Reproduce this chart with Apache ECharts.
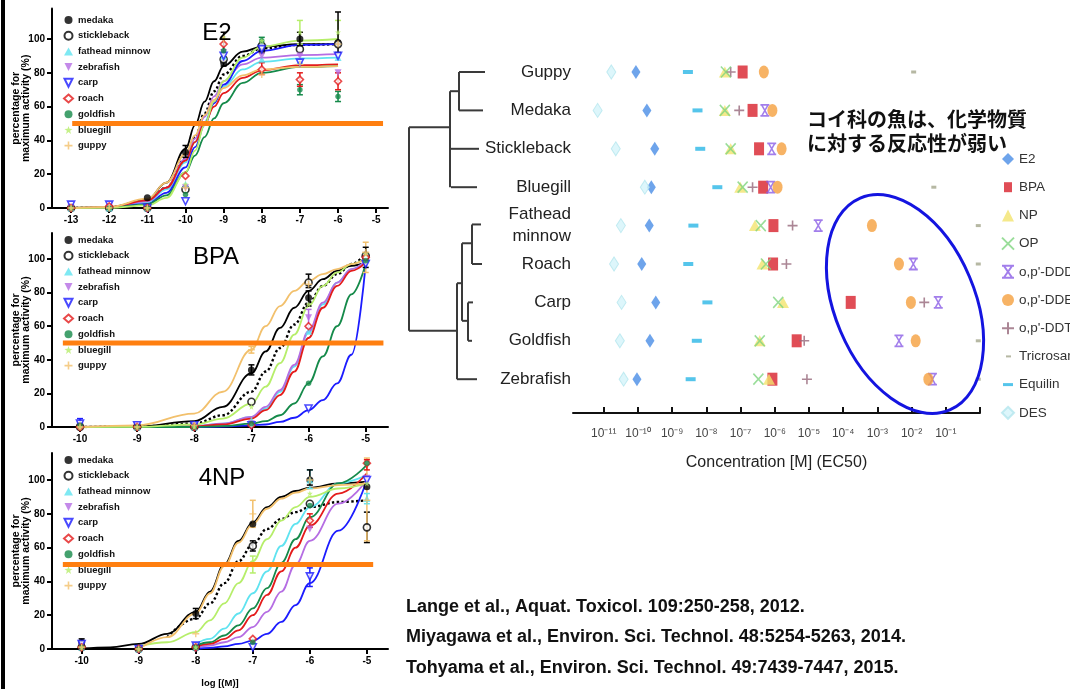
<!DOCTYPE html>
<html>
<head>
<meta charset="utf-8">
<script src="https://cdn.jsdelivr.net/npm/echarts@6.0.0/dist/echarts.min.js"></script>
<style>html,body{margin:0;padding:0;background:#fff}#main{width:1070px;height:689px}</style>
</head>
<body>
<div id="main"></div>
<script>
// ---- left panels: dose-response per fish ----
var fishNames = ['medaka', 'stickleback', 'fathead minnow', 'zebrafish', 'carp', 'roach', 'goldfish', 'bluegill', 'guppy'];

// E2
var e2Ticks = [-13, -12, -11, -10, -9, -8, -7, -6, -5];
var e2CurveX = [-13, -12, -11, -10.5, -10, -9.75, -9.5, -9.25, -9, -8.5, -8, -7, -6];
var e2Curves = [
    [0, 0.5, 5, 15, 35, 49, 63, 75, 84, 92.5, 95.5, 97, 97],
    [0, 0.4, 4, 12, 29, 42, 56, 69, 79, 90, 94.5, 96.5, 97],
    [0, 0.3, 3.5, 11, 27, 39, 51, 63, 72, 82, 86.5, 88.5, 89],
    [0, 0.4, 4, 12, 29, 41, 54, 66, 75, 85, 89, 90.5, 91],
    [0, 0.2, 2.5, 9, 24, 36, 49, 62, 73, 87, 93, 96.5, 97],
    [0, 0.4, 4.5, 12, 28, 39, 50, 60, 68, 77, 81.5, 84.5, 85],
    [0, 0.2, 2.2, 7.5, 21, 31, 42, 53, 62, 74, 80, 83.5, 84],
    [0, 0.1, 1.5, 6, 21, 34, 49, 63, 75, 89, 95.5, 99, 100],
    [0, 0.6, 5.5, 15, 32, 43, 55, 64, 71, 78.5, 82, 83.5, 84]
];
var e2DoseX = [-13, -12, -11, -10, -9, -8, -7, -6];
var e2Points = [
    [0, 0, 6, 33, 86, 93, 100, 98],
    [0, 0, 0, 11, 88, 96, 94, 97],
    [0, 0, 0, 14, 90, 88, 87, 89],
    [0, 0, 0, 12, 92, 90, 90, 80],
    [2, 2, 0, 4, 90, 94, 86, 90],
    [0, 1, 0, 19, 97, 82, 76, 75],
    [0, 0, 0, 8, 93, 99, 70, 66],
    [0, 0, 0, 14, 101, 99, 104, 104],
    [0, 0, 0, 12, 100, 79, 85, 97]
];
// [x, low, high, fish index]
var e2Errors = [
    [-7, 67, 73, 6], [-6, 63, 69, 6], [-7, 97, 111, 7], [-6, 97, 111, 7],
    [-6, 92, 116, 0], [-7, 96, 104, 0], [-8, 79, 86, 5], [-6, 70, 80, 5],
    [-7, 72, 80, 5], [-8, 97, 101, 6], [-9, 84, 104, 1], [-10, 30, 37, 0]
];

// BPA
var bpaTicks = [-10, -9, -8, -7, -6, -5];
var bpaCurveX = [-10, -9, -8, -7.5, -7, -6.75, -6.5, -6.25, -6, -5.75, -5.5, -5.25, -5];
var bpaCurves = [
    [0, 0.3, 3.5, 12, 32, 45, 59, 71, 81, 88, 93, 96, 98],
    [0, 0.2, 2, 7, 21, 33, 47, 61, 74, 84, 91, 97, 103],
    [0, 0, 0.5, 2, 6, 11, 21, 36, 56, 73, 86, 94, 99],
    [0, 0, 0.5, 2, 6, 12, 22, 37, 57, 74, 86, 94, 99],
    [0, 0, 0, 0.3, 1, 1.5, 3, 5.5, 10, 16, 26, 43, 97],
    [0, 0, 0.4, 1.5, 5, 10, 19, 33, 53, 71, 84, 93, 98],
    [0, 0, 0, 0.5, 2, 3.5, 7, 14, 26, 42, 60, 79, 97],
    [0, 0.1, 1.5, 5, 14, 24, 38, 55, 72, 84, 92, 97, 101],
    [0, 1, 8, 21, 46, 60, 72, 81, 87, 91, 94, 97, 100]
];
var bpaDoseX = [-10, -9, -8, -7, -6, -5];
var bpaPoints = [
    [1, 0, 0, 34, 77, 100],
    [0, 0, 0, 15, 86, 102],
    [1, 0, 0, 4, 57, 100],
    [1, 1, 0, 2, 65, 98],
    [2, 1, 1, 1, 11, 97],
    [0, 0, 0, 1, 60, 101],
    [1, 0, 0, 2, 26, 99],
    [0, 0, 0, 12, 73, 103],
    [0, 0, 1, 46, 85, 104]
];
var bpaErrors = [
    [-10, 0, 5, 4], [-7, 44, 48, 8], [-7, 31, 37, 0], [-6, 72, 81, 0],
    [-6, 83, 91, 1], [-6, 59, 70, 3], [-5, 92, 110, 8], [-5, 95, 107, 0]
];

// 4NP
var npCurveX = [-10, -9.5, -9, -8.5, -8, -7.75, -7.5, -7.25, -7, -6.75, -6.5, -6.25, -6, -5.5, -5];
var npCurves = [
    [0.3, 1, 3, 9, 22, 34, 50, 64, 75, 84, 90, 93.5, 95.5, 98, 99],
    [null, null, null, 7, 18, 27, 39, 52, 62, 71, 77, 81, 84, 87, 88],
    [null, null, null, null, 3, 6, 12, 21, 33, 46, 61, 74, 84, 98, 103],
    [null, null, null, null, 1, 2, 4, 7, 13, 22, 34, 50, 64, 86, 100],
    [null, null, null, null, 0, 0.7, 1.5, 3, 5, 9, 16, 26, 39, 70, 100],
    [null, null, null, null, 1.5, 3, 6, 11, 20, 32, 46, 60, 73, 92, 104],
    [null, null, null, null, 2, 4, 8, 14, 24, 36, 51, 65, 78, 98, 109],
    [null, null, 1.5, 4, 10, 17, 27, 39, 52, 65, 76, 84, 90, 95, 98],
    [null, null, 0, 7, 21, 33, 49, 63, 74, 83, 89, 92.5, 95, 97, 98]
];
var npDoseX = [-10, -9, -8, -7, -6, -5];
var npPoints = [
    [4, 0, 21, 74, 100, 96],
    [1, 0, 1, 61, 86, 72],
    [1, 0, 1, 5, 100, 89],
    [2, 0, 0, 3, 71, 101],
    [3, 0, 2, 1, 43, 100],
    [1, 0, 1, 6, 76, 110],
    [1, 0, 1, 4, 85, 110],
    [1, 0, 1, 50, 92, 98],
    [1, 0, 9, 80, 100, 88]
];
var npErrors = [
    [-10, 2, 6, 0], [-8, 18, 24, 0], [-7, 58, 64, 1], [-7, 45, 55, 7],
    [-7, 72, 88, 8], [-6, 37, 48, 4], [-6, 95, 106, 2], [-6, 97, 106, 0],
    [-5, 63, 81, 1], [-5, 64, 113, 8], [-5, 86, 92, 2], [-5, 106, 112, 5], [-6, 72, 80, 5]
];

var halfMax = 50;
var e2Span = [-12.97, -4.82];
var bpaSpan = [-10.3, -4.69];
var npSpan = [-10.33, -4.89];

// ---- right panel: EC50 per species ----
var speciesRows = ['Guppy', 'Medaka', 'Stickleback', 'Bluegill', 'Fathead\nminnow', 'Roach', 'Carp', 'Goldfish', 'Zebrafish'];
var chemNames = ['E2', 'BPA', 'NP', 'OP', "o,p'-DDD", "o,p'-DDE", "o,p'-DDT", 'Tricrosan', 'Equilin', 'DES'];
var logE2 = [-10.06, -9.74, -9.51, -9.61, -9.67, -9.89, -9.48, -9.65, -10.03];
var logBPA = [-6.94, -6.65, -6.46, -6.34, -6.04, -6.05, -3.78, -5.36, -6.07];
var logNP = [-7.46, -7.46, -7.29, -7.01, -6.58, -6.36, -5.76, -6.44, -6.17];
var logOP = [-7.43, -7.46, -7.29, -6.94, -6.41, -6.26, -5.90, -6.44, -6.48];
var logDDD = [null, -6.29, -6.09, -6.12, -4.73, -1.95, -1.22, -2.37, -1.39];
var logDDE = [-6.32, -6.07, -5.80, -5.92, -3.16, -2.37, -2.02, -1.88, -1.51];
var logDDT = [-7.29, -7.04, null, -6.65, -5.48, -5.66, -1.63, -5.14, -5.06];
var logTricrosan = [-1.94, null, null, -1.35, -0.05, -0.05, null, -0.05, -0.05];
var logEquilin = [-8.54, -8.26, -8.18, -7.68, -8.38, -8.53, -7.97, -8.28, -8.46];
var logDES = [-10.78, -11.18, -10.65, -9.80, -10.50, -10.70, -10.48, -10.53, -10.42];
var concTicks = [-11, -10, -9, -8, -7, -6, -5, -4, -3, -2, -1];
var concLabels = ['10⁻¹¹', '10⁻¹⁰', '10⁻⁹', '10⁻⁸', '10⁻⁷', '10⁻⁶', '10⁻⁵', '10⁻⁴', '10⁻³', '10⁻²', '10⁻¹'];

// dendrogram segments: [depth1, row1, depth2, row2]
var treeSegments = [
    [0, 1.44, 0, 6.74], [0, 1.44, 41, 1.44], [41, 0.5, 41, 3], [41, 0.5, 50, 0.5],
    [50, 0, 50, 1], [50, 0, 76, 0], [50, 1, 74, 1], [42, 2, 70, 2], [42, 3, 68, 3],
    [0, 6.74, 48, 6.74], [48, 5.5, 48, 8], [48, 8, 68, 8], [48, 5.5, 53, 5.5],
    [53, 4.46, 53, 6.48], [53, 4.46, 63, 4.46], [63, 3.97, 63, 5], [63, 3.97, 72, 3.97],
    [63, 5, 73, 5], [53, 6.48, 59, 6.48], [59, 6, 59, 7], [59, 6, 64, 6], [59, 7, 63, 7]
];

var references = [
    'Lange et al., Aquat. Toxicol. 109:250-258, 2012.',
    'Miyagawa et al., Environ. Sci. Technol. 48:5254-5263, 2014.',
    'Tohyama et al., Environ. Sci. Technol. 49:7439-7447, 2015.'
];

// ---- styles ----
var FONT = '"Liberation Sans", Arial, sans-serif';
var fishColors = ['#000000', '#000000', '#5fe3f0', '#b56de3', '#1c1cff', '#e41b1b', '#158a4a', '#b6ee6a', '#f2c06c'];
var fishSymbols = ['circle', 'circle', 'triangle', 'path://M0,0L10,0L5,10Z', 'path://M0,0L10,0L5,10Z', 'diamond', 'circle',
    'path://M5,0L6.2,3.6L10,3.8L7,6.1L8.1,10L5,7.7L1.9,10L3,6.1L0,3.8L3.8,3.6Z',
    'path://M4,0H6V4H10V6H6V10H4V6H0V4H4Z'];
var fishOpen = [false, true, false, false, true, true, false, false, false];
var fishSizes = [7, 7, 7, 7, 7, 7, 5.5, 6, 7];

var chemSymbols = ['diamond', 'rect', 'triangle', 'path://M0,0L10,10M10,0L0,10',
    'path://M0,0L10,0M0,10L10,10M1.5,0L8.5,10M8.5,0L1.5,10', 'circle', 'path://M5,0L5,10M0,5L10,5',
    'rect', 'rect', 'diamond'];
var chemSizes = [[9, 14], [10, 13], [12, 11], [10, 11], [9, 11], [10, 13], [10, 10], [5, 3], [10, 4], [9, 14]];
var chemColors = ['#4a8de6', '#d8202c', '#f2e46e', '#7fd47f', '#8b5ee6', '#f5a03e', '#96687a', '#a4a68c', '#2bb6e6', '#d4f4fa'];
var chemStroked = [false, false, false, true, true, false, true, false, false, false];
// legend icons drawn small inside their box (dashes for Tricrosan / Equilin)
var chemLegendIcons = [null, 'path://M0,0M12,12M2,1H10V11H2Z', null, null, null, null, null,
    'path://M0,0M12,12M4,5H9V7H4Z', 'path://M0,0M12,12M1,4.5H11V7.5H1Z', null];

var grids = [], xAxes = [], yAxes = [], series = [], legends = [], graphics = [];

function errorBar(params, api) {
    var x = api.value(0);
    var lo = api.coord([x, api.value(1)]);
    var hi = api.coord([x, api.value(2)]);
    var c = fishColors[api.value(3)];
    var st = {stroke: c, lineWidth: 1.5};
    return {type: 'group', children: [
        {type: 'line', shape: {x1: lo[0], y1: lo[1], x2: hi[0], y2: hi[1]}, style: st},
        {type: 'line', shape: {x1: lo[0] - 3, y1: lo[1], x2: lo[0] + 3, y2: lo[1]}, style: st},
        {type: 'line', shape: {x1: hi[0] - 3, y1: hi[1], x2: hi[0] + 3, y2: hi[1]}, style: st}
    ]};
}

function addPanel(p, box, xRange, yMax, ticks, curveX, curves, doseX, points, errors, span, xName, legendTop) {
    grids.push(box);
    xAxes.push({
        gridIndex: p, type: 'value', min: xRange[0], max: xRange[1],
        name: xName, nameLocation: 'middle', nameGap: 29, nameMoveOverlap: false,
        nameTextStyle: {fontFamily: FONT, fontWeight: 'bold', fontSize: 9.5, color: '#000'},
        axisLine: {show: true, onZero: false, lineStyle: {color: '#000', width: 2}},
        axisTick: {show: true, customValues: ticks, length: 5, lineStyle: {color: '#000', width: 2}},
        axisLabel: {customValues: ticks, color: '#000', fontWeight: 'bold', fontSize: 10, margin: 7, fontFamily: FONT},
        splitLine: {show: false}
    });
    yAxes.push({
        gridIndex: p, type: 'value', min: 0, max: yMax,
        name: 'percentage for\nmaximum activity (%)', nameLocation: 'middle', nameRotate: 90, nameGap: 21,
        nameMoveOverlap: false,
        nameTextStyle: {fontFamily: FONT, fontWeight: 'bold', fontSize: 10.5, lineHeight: 10, color: '#000'},
        axisLine: {show: true, onZero: false, lineStyle: {color: '#000', width: 2}},
        axisTick: {show: true, customValues: [0, 20, 40, 60, 80, 100], length: 5, lineStyle: {color: '#000', width: 2}},
        axisLabel: {customValues: [0, 20, 40, 60, 80, 100], color: '#000', fontWeight: 'bold', fontSize: 10, margin: 7, fontFamily: FONT},
        splitLine: {show: false}
    });
    fishNames.forEach(function (name, f) {
        series.push({
            type: 'scatter', name: name, xAxisIndex: p, yAxisIndex: p, z: 4,
            data: doseX.map(function (x, i) { return [x, points[f][i]]; }),
            symbol: fishSymbols[f], symbolSize: fishSizes[f],
            itemStyle: fishOpen[f] ? {color: '#fff', borderColor: fishColors[f], borderWidth: 1.6} : {color: fishColors[f]}
        });
    });
    fishNames.forEach(function (name, f) {
        series.push({
            type: 'line', name: name, xAxisIndex: p, yAxisIndex: p, z: 3,
            data: curveX.map(function (x, i) { return [x, curves[f][i]]; }),
            showSymbol: false, symbol: 'none', smooth: 0.4, smoothMonotone: 'x',
            lineStyle: {color: fishColors[f], width: f === 1 ? 2.4 : 1.8, type: f === 1 ? 'dotted' : 'solid'}
        });
    });
    series.push({
        type: 'custom', xAxisIndex: p, yAxisIndex: p, z: 4, renderItem: errorBar,
        encode: {x: 0, y: [1, 2]}, data: errors
    });
    series.push({
        type: 'line', xAxisIndex: p, yAxisIndex: p, z: 6, silent: true, symbol: 'none',
        data: [[span[0], halfMax], [span[1], halfMax]],
        lineStyle: {color: '#ff7f10', width: 5}
    });
    legends.push({
        data: fishNames, orient: 'vertical', left: 63, top: legendTop,
        itemWidth: 9, itemHeight: 8, itemGap: 5.7, padding: 0, selectedMode: false,
        textStyle: {fontFamily: FONT, fontWeight: 'bold', fontSize: 9.5, color: '#111'}
    });
}

addPanel(0, {left: 52, top: 8.6, width: 336, height: 199.4}, [-13.5, -4.69], 118, e2Ticks,
    e2CurveX, e2Curves, e2DoseX, e2Points, e2Errors, e2Span, '', 15);
addPanel(1, {left: 52, top: 233, width: 336, height: 194}, [-10.49, -4.61], 115.5, bpaTicks,
    bpaCurveX, bpaCurves, bpaDoseX, bpaPoints, bpaErrors, bpaSpan, '', 235);
addPanel(2, {left: 52, top: 453, width: 336, height: 196}, [-10.52, -4.63], 116, bpaTicks,
    npCurveX, npCurves, npDoseX, npPoints, npErrors, npSpan, 'log [(M)]', 455);

// EC50 scatter grid
grids.push({left: 573, top: 52.8, width: 407, height: 345.6});
xAxes.push({
    gridIndex: 3, type: 'value', min: -11.9, max: 0, offset: 14.6,
    name: 'Concentration [M] (EC50)', nameLocation: 'middle', nameGap: 42,
    nameTextStyle: {fontFamily: FONT, fontSize: 16, color: '#222'},
    axisLine: {show: true, onZero: false, lineStyle: {color: '#111', width: 2}},
    axisTick: {show: true, inside: true, customValues: concTicks.concat([0]), length: 6, lineStyle: {color: '#111', width: 2}},
    axisLabel: {customValues: concTicks, margin: 15, fontSize: 12, color: '#444', fontFamily: FONT,
        formatter: function (v) { return concLabels[concTicks.indexOf(Math.round(v))]; }},
    splitLine: {show: false}
});
yAxes.push({
    gridIndex: 3, type: 'category', inverse: true, data: speciesRows,
    axisLine: {show: false}, axisTick: {show: false}, splitLine: {show: false},
    axisLabel: {fontFamily: FONT, fontSize: 17, color: '#222', margin: 2, lineHeight: 22, align: 'right'}
});
var chemData = [logE2, logBPA, logNP, logOP, logDDD, logDDE, logDDT, logTricrosan, logEquilin, logDES];
chemNames.forEach(function (name, c) {
    var pts = [];
    chemData[c].forEach(function (v, r) { if (v !== null) pts.push([v, r]); });
    series.push({
        type: 'scatter', name: name, xAxisIndex: 3, yAxisIndex: 3, z: 4 + (c === 3 ? 1 : 0),
        data: pts, symbol: chemSymbols[c], symbolSize: chemSizes[c],
        itemStyle: chemStroked[c] ? {color: 'rgba(0,0,0,0)', borderColor: chemColors[c], borderWidth: 1.6}
            : (c === 9 ? {color: chemColors[c], borderColor: '#b4e6ee', borderWidth: 1} : {color: chemColors[c]})
    });
});
legends.push({
    data: chemNames.map(function (n, c) { return chemLegendIcons[c] ? {name: n, icon: chemLegendIcons[c]} : n; }),
    orient: 'vertical', left: 1001, top: 152,
    itemWidth: 12, itemHeight: 12, itemGap: 14.2, padding: 0, selectedMode: false,
    textStyle: {fontFamily: FONT, fontSize: 13.5, color: '#333'}
});

// dendrogram grid
grids.push({left: 409, top: 52.8, width: 90, height: 345.6});
xAxes.push({gridIndex: 4, type: 'value', min: 0, max: 90, show: false});
yAxes.push({gridIndex: 4, type: 'value', min: -0.5, max: 8.5, inverse: true, show: false});
series.push({
    type: 'custom', xAxisIndex: 4, yAxisIndex: 4, silent: true, encode: {x: [0, 2], y: [1, 3]},
    data: treeSegments,
    renderItem: function (params, api) {
        var a = api.coord([api.value(0), api.value(1)]);
        var b = api.coord([api.value(2), api.value(3)]);
        return {type: 'line', shape: {x1: a[0], y1: a[1], x2: b[0], y2: b[1]}, style: {stroke: '#3a3a3a', lineWidth: 2}};
    }
});

// panel titles, notes, references
graphics.push({type: 'rect', left: 1, top: 0, shape: {width: 4, height: 689}, style: {fill: '#000'}});
[['E2', 217, 33], ['BPA', 216, 257], ['4NP', 222, 478]].forEach(function (t) {
    graphics.push({type: 'text', x: t[1], y: t[2], z: 10,
        style: {text: t[0], font: '24px ' + FONT, fill: '#000', align: 'center', verticalAlign: 'middle'}});
});
graphics.push({type: 'text', x: 807, y: 119, z: 10,
    style: {text: 'コイ科の魚は、化学物質', font: 'bold 20px "Noto Sans CJK JP"', fill: '#111', verticalAlign: 'middle'}});
graphics.push({type: 'text', x: 807, y: 143, z: 10,
    style: {text: 'に対する反応性が弱い', font: 'bold 20px "Noto Sans CJK JP"', fill: '#111', verticalAlign: 'middle'}});
graphics.push({type: 'ellipse', x: 905, y: 304, rotation: 0.4, z: 10,
    shape: {cx: 0, cy: 0, rx: 70, ry: 115}, style: {fill: 'none', stroke: '#1414e0', lineWidth: 3}});
references.forEach(function (r, i) {
    graphics.push({type: 'text', x: 406, y: 607 + i * 30.5, z: 10,
        style: {text: r, font: 'bold 18px ' + FONT, fill: '#111', verticalAlign: 'middle'}});
});

var myChart = echarts.init(document.getElementById('main'));
myChart.setOption({
    backgroundColor: '#fff',
    animation: false,
    grid: grids,
    xAxis: xAxes,
    yAxis: yAxes,
    legend: legends,
    series: series,
    graphic: graphics
});
</script>
</body>
</html>
